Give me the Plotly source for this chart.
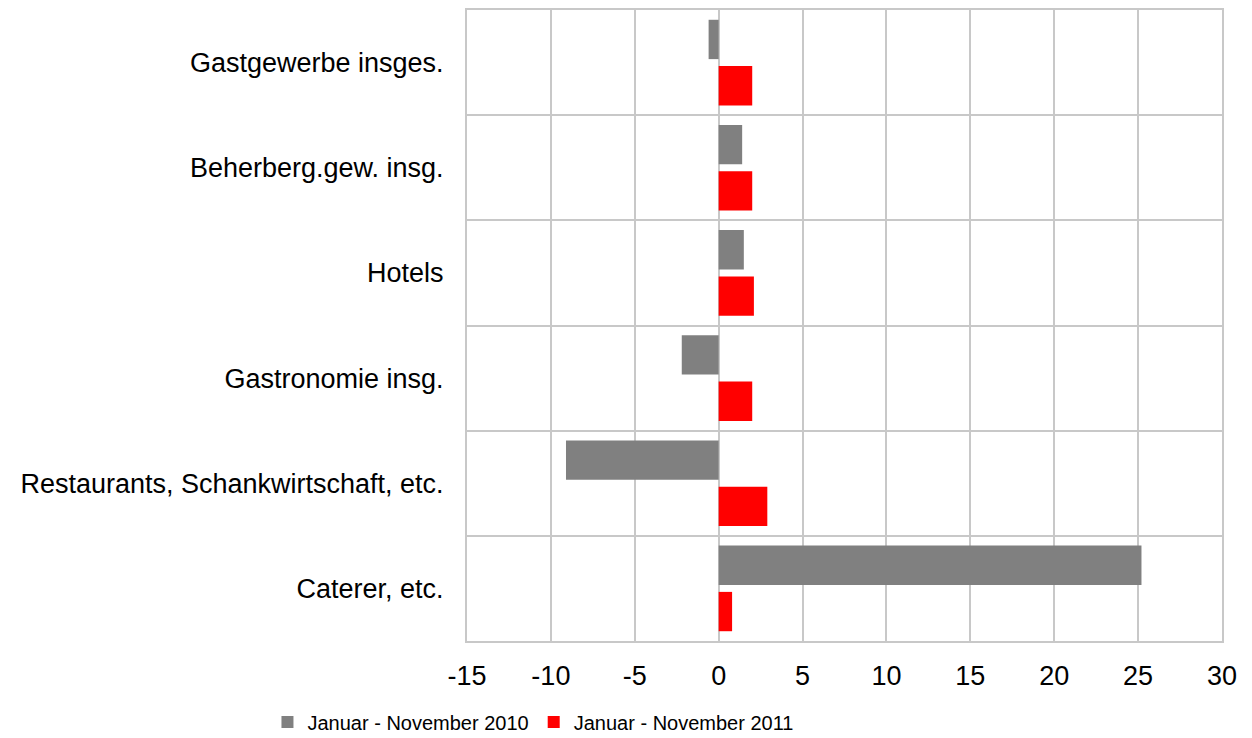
import plotly.graph_objects as go

categories = ["Gastgewerbe insges.", "Beherberg.gew. insg.", "Hotels",
              "Gastronomie insg.", "Restaurants, Schankwirtschaft, etc.", "Caterer, etc."]
values_2010 = [-0.6, 1.4, 1.5, -2.2, -9.1, 25.2]
values_2011 = [2.0, 2.0, 2.1, 2.0, 2.9, 0.8]
series_names = ["Januar - November 2010", "Januar - November 2011"]
x_ticks = [-15, -10, -5, 0, 5, 10, 15, 20, 25, 30]

GRID = "#c8c8c8"
FONT = "Liberation Sans, Arial, sans-serif"

fig = go.Figure()
fig.add_trace(go.Bar(y=categories, x=values_2010, orientation="h",
                     name=series_names[0], marker=dict(color="#808080", line=dict(width=0))))
fig.add_trace(go.Bar(y=categories, x=values_2011, orientation="h",
                     name=series_names[1], marker=dict(color="#ff0000", line=dict(width=0))))

# page body has an 8px margin, so the figure is offset by (8, 8)
fig.update_layout(
    width=1244, height=730,
    margin=dict(l=459, r=30, t=2, b=97, autoexpand=False),
    paper_bgcolor="white", plot_bgcolor="white",
    barmode="group", bargap=0.12, bargroupgap=0.15,
    font=dict(family=FONT, size=27, color="black"),
    showlegend=True,
    legend=dict(orientation="h", xref="container", yref="container",
                x=0.422, xanchor="center", y=16/730, yanchor="middle",
                font=dict(size=20), itemwidth=30, tracegroupgap=0,
                bgcolor="rgba(0,0,0,0)"),
    xaxis=dict(range=[-15, 30], tickvals=x_ticks, ticktext=[str(v) for v in x_ticks],
               showgrid=True, gridcolor=GRID, gridwidth=2,
               zeroline=True, zerolinecolor=GRID, zerolinewidth=2,
               showline=True, linecolor=GRID, linewidth=2, mirror=True,
               ticks="", ticklabelstandoff=10, fixedrange=True, automargin=False),
    yaxis=dict(type="category", categoryorder="array", categoryarray=categories,
               autorange="reversed", tickson="boundaries",
               showgrid=True, gridcolor=GRID, gridwidth=2,
               showline=True, linecolor=GRID, linewidth=2, mirror=True,
               ticks="", ticklabelstandoff=16, fixedrange=True, automargin=False),
)

fig.write_html("out.html")
